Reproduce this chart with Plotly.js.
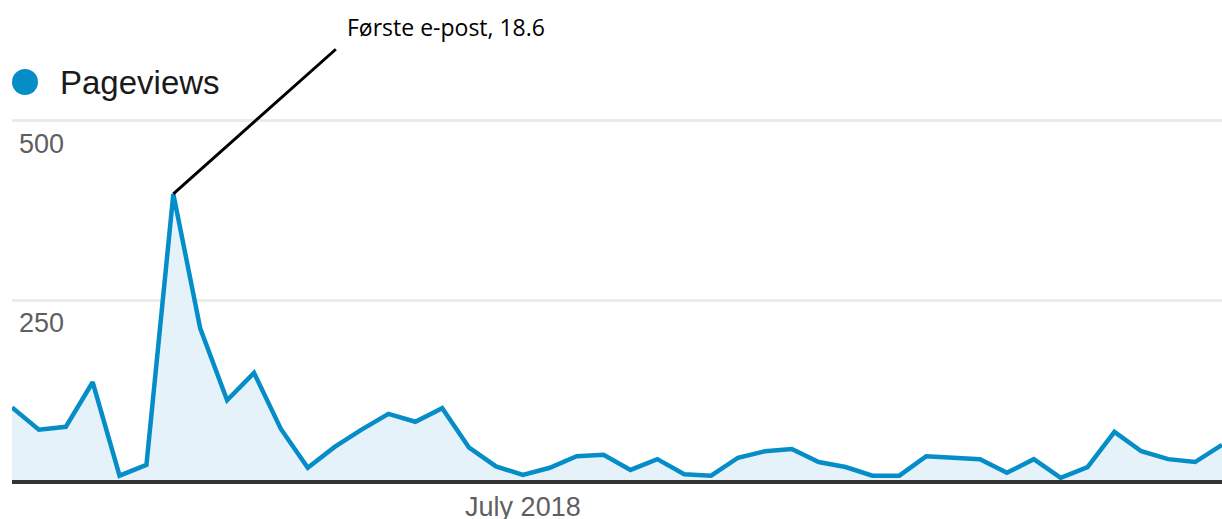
<!DOCTYPE html>
<html>
<head>
<meta charset="utf-8">
<script src="https://cdn.plot.ly/plotly-3.0.1.min.js"></script>
<style>html,body{margin:0;padding:0;background:#fff;}#chart{width:1222px;height:519px;}</style>
</head>
<body>
<div id="chart"></div>
<script>
const dates = [
  '2018-06-12','2018-06-13','2018-06-14','2018-06-15','2018-06-16','2018-06-17','2018-06-18','2018-06-19',
  '2018-06-20','2018-06-21','2018-06-22','2018-06-23','2018-06-24','2018-06-25','2018-06-26','2018-06-27',
  '2018-06-28','2018-06-29','2018-06-30','2018-07-01','2018-07-02','2018-07-03','2018-07-04','2018-07-05',
  '2018-07-06','2018-07-07','2018-07-08','2018-07-09','2018-07-10','2018-07-11','2018-07-12','2018-07-13',
  '2018-07-14','2018-07-15','2018-07-16','2018-07-17','2018-07-18','2018-07-19','2018-07-20','2018-07-21',
  '2018-07-22','2018-07-23','2018-07-24','2018-07-25','2018-07-26','2018-07-27'
];
const pageviews = [
  101, 70, 74, 136, 6, 21, 398, 211, 111, 149, 71, 17, 46, 70, 92, 81,
  100, 45, 19, 7, 17, 33, 35, 14, 29, 8, 6, 31, 40, 43, 25, 18,
  6, 6, 33, 31, 29, 10, 29, 3, 18, 67, 40, 29, 25, 49
];
const seriesName = 'Pageviews';
const yTickVals = [250, 500];
const yTickText = ['250', '500'];
const xTickVals = ['2018-07-01'];
const xTickText = ['July 2018'];
const noteDate = '2018-06-18';
const noteText = 'Første e-post, 18.6';

const blue = '#058dc7';
const noteIdx = dates.indexOf(noteDate);

const traces = [
  {
    x: dates, y: pageviews, type: 'scatter', mode: 'lines', name: seriesName,
    line: {color: blue, width: 4.5},
    fill: 'tozeroy', fillcolor: '#e6f2f9',
    showlegend: false, hoverinfo: 'skip'
  }
];

const annotations = yTickVals.map((v, i) => ({
  xref: 'paper', yref: 'y', x: 0, y: v, xanchor: 'left', yanchor: 'top',
  xshift: 5, yshift: -6, text: yTickText[i], showarrow: false,
  font: {family: 'Arial, "Liberation Sans", sans-serif', size: 27, color: '#5f5f5f'}
}));
annotations.push({
  xref: 'x', yref: 'y', x: dates[noteIdx], y: pageviews[noteIdx], text: '',
  showarrow: true, arrowhead: 0, arrowwidth: 3, arrowcolor: '#000',
  ax: 164, ay: -146, standoff: 0
});
annotations.push({
  xref: 'x', yref: 'y', x: dates[noteIdx], y: pageviews[noteIdx], text: noteText,
  showarrow: false, xanchor: 'left', yanchor: 'middle', xshift: 172, yshift: 167,
  font: {family: '"Open Sans", sans-serif', size: 23, color: '#000'}
});
// legend label
annotations.push({
  xref: 'paper', yref: 'paper', x: 0, y: 1, xanchor: 'left', yanchor: 'middle',
  xshift: 46, yshift: 35, text: seriesName, showarrow: false,
  font: {family: 'Arial, "Liberation Sans", sans-serif', size: 33, color: '#1a1a1a'}
});

const layout = {
  width: 1222, height: 519,
  margin: {l: 12, r: 0, t: 117, b: 39, pad: 0, autoexpand: false},
  paper_bgcolor: '#fff', plot_bgcolor: '#fff',
  font: {family: 'Arial, "Liberation Sans", sans-serif'},
  hovermode: false,
  showlegend: false,
  xaxis: {
    type: 'date', range: [dates[0], dates[dates.length - 1]],
    tickmode: 'array', tickvals: xTickVals, ticktext: xTickText,
    showgrid: false, zeroline: false, ticks: '',
    showline: true, linecolor: '#333', linewidth: 4,
    tickfont: {size: 27, color: '#5f5f5f'}, fixedrange: true
  },
  yaxis: {
    range: [0, 505], tickmode: 'array', tickvals: yTickVals,
    showticklabels: false, showgrid: true, gridcolor: '#ebebeb', gridwidth: 3,
    zeroline: false, showline: false, fixedrange: true
  },
  shapes: [{
    type: 'circle', xref: 'paper', yref: 'paper',
    xsizemode: 'pixel', ysizemode: 'pixel', xanchor: 0, yanchor: 1,
    x0: 0, x1: 26, y0: 22, y1: 48,
    fillcolor: blue, line: {width: 0}
  }],
  annotations: annotations
};

Plotly.newPlot('chart', traces, layout, {displayModeBar: false, staticPlot: true});
</script>
</body>
</html>
